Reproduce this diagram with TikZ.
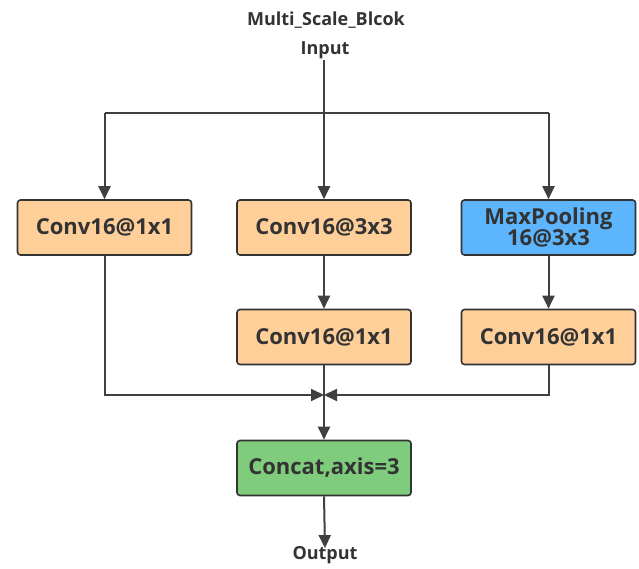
\documentclass[tikz,border=0pt]{standalone}
\usepackage{fontspec}
\setmainfont{Open Sans}
\usetikzlibrary{arrows.meta}
\definecolor{convfill}{HTML}{FFCF9A}
\definecolor{poolfill}{HTML}{5CB5FD}
\definecolor{catfill}{HTML}{7ECC7C}
\definecolor{linecol}{HTML}{404040}
\definecolor{txtcol}{HTML}{333333}
\begin{document}
\begin{tikzpicture}[x=1pt,y=-1pt,
  blk/.style={draw=txtcol,line width=1.6pt,rounded corners=3pt,minimum width=174pt,minimum height=55pt,
    font=\bfseries\fontsize{22}{24}\selectfont,text=txtcol,align=center,inner sep=2pt},
  conv/.style={blk,fill=convfill},
  pool/.style={blk,fill=poolfill},
  cat/.style={blk,fill=catfill},
  lbl/.style={font=\bfseries\fontsize{18}{20}\selectfont,text=txtcol,inner sep=1pt},
  conn/.style={draw=linecol,line width=2pt},
  arr/.style={conn,-{Triangle[length=13pt,width=12pt]}}]
\useasboundingbox (0,0) rectangle (639,569);
% labels
\node[lbl] (title) at (326,20) {Multi\_Scale\_Blcok};
\node[lbl] (input) at (325,50) {Input};
% boxes
\node[conv] (c1) at (104.5,227.5) {Conv16@1x1};
\node[conv] (c3) at (324,227.5) {Conv16@3x3};
\node[pool] (mp) at (548.5,227.5) {MaxPooling\\[-3pt]16@3x3};
\node[conv] (c3b) at (324,337) {Conv16@1x1};
\node[conv] (mpb) at (548.5,337) {Conv16@1x1};
\node[cat] (cat) at (324,468) {Concat,axis=3};
\node[lbl] (output) at (325,555) {Output};
% split points
\coordinate (split) at (324,113);
\coordinate (merge) at (324,395);
% input distribution
\draw[arr] (input.south -| split) -- (c3.north);
\draw[conn] (c1.north |- split) -- (mp.north |- split);
\draw[arr] (c1.north |- split) -- (c1.north);
\draw[arr] (mp.north |- split) -- (mp.north);
% branch bodies
\draw[arr] (c3) -- (c3b);
\draw[arr] (mp) -- (mpb);
% merge
\draw[arr] (c1.south) |- (merge);
\draw[arr] (mpb.south) |- (merge);
\draw[arr] (c3b.south) -- (cat.north);
\draw[arr] (cat.south) -- ([yshift=-3pt]output.north);
\end{tikzpicture}
\end{document}
